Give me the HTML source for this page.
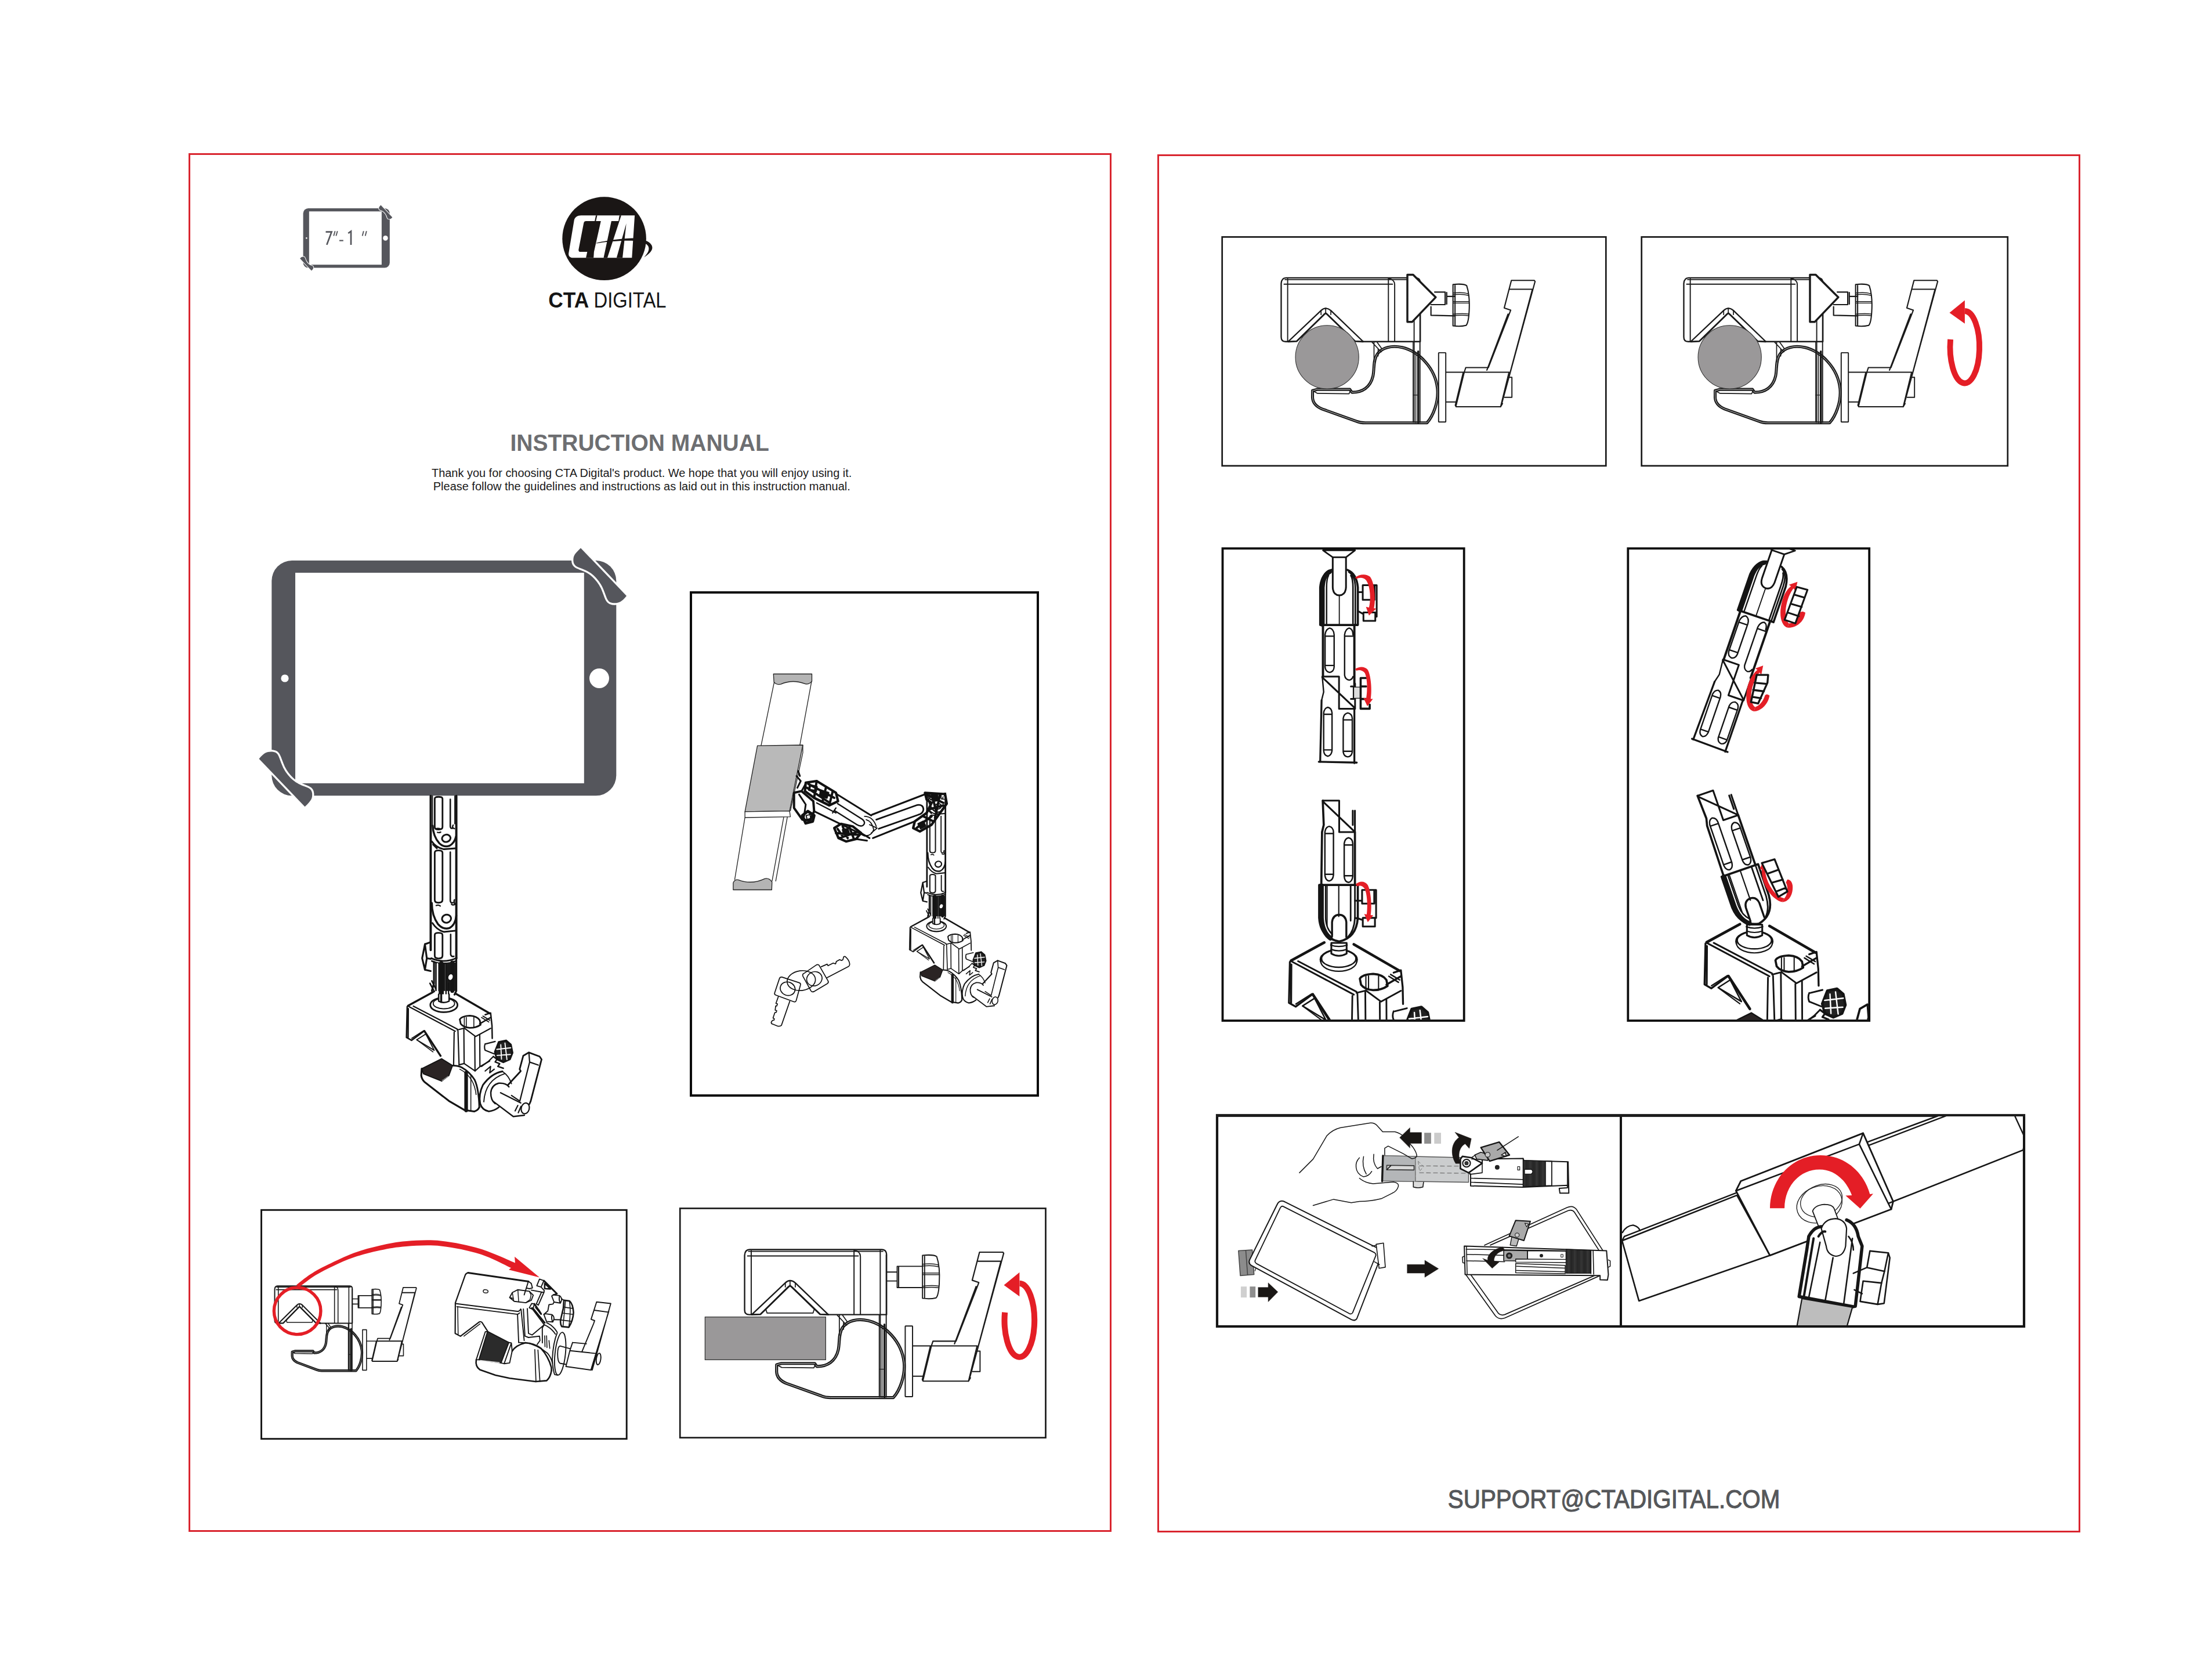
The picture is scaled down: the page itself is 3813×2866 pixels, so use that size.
<!DOCTYPE html>
<html><head><meta charset="utf-8"><title>CTA Digital Instruction Manual</title>
<style>
html,body{margin:0;padding:0;background:#fff;}
body{width:3813px;height:2866px;overflow:hidden;font-family:"Liberation Sans",sans-serif;}
svg{display:block;position:absolute;left:0;top:0;}
text{font-family:"Liberation Sans",sans-serif;}
.k{fill:none;stroke:#111;stroke-width:2.6;stroke-linejoin:round;stroke-linecap:round;}
.k2{fill:none;stroke:#111;stroke-width:2;stroke-linejoin:round;stroke-linecap:round;}
.k1{fill:none;stroke:#222;stroke-width:1.4;stroke-linejoin:round;stroke-linecap:round;}
.k3{fill:none;stroke:#111;stroke-width:3.4;stroke-linejoin:round;stroke-linecap:round;}
.k4{fill:none;stroke:#111;stroke-width:4.5;stroke-linejoin:round;stroke-linecap:round;}
.w{fill:#fff;}
.r{fill:#e41e26;}
.rs{fill:none;stroke:#e41e26;}
</style></head><body>
<svg width="3813" height="2866" viewBox="0 0 3813 2866">
<!-- 00_frame.svg -->
<g id="frame">
<rect x="326.5" y="265.5" width="1588" height="2373" fill="none" stroke="#d9252f" stroke-width="3"/>
<rect x="1996.5" y="267.5" width="1588" height="2372" fill="none" stroke="#d9252f" stroke-width="3"/>
<!-- boxes -->
<rect x="1191" y="1021" width="598" height="867" fill="none" stroke="#0c0c0c" stroke-width="4"/>
<rect x="450.5" y="2085.3" width="629.7" height="394.4" fill="none" stroke="#151515" stroke-width="2.9"/>
<rect x="1172.2" y="2082.5" width="630.3" height="395.2" fill="none" stroke="#1a1a1a" stroke-width="2.7"/>
<rect x="2106.7" y="408.4" width="661.6" height="394.4" fill="none" stroke="#1a1a1a" stroke-width="2.7"/>
<rect x="2829.7" y="408.4" width="631.1" height="394.4" fill="none" stroke="#1a1a1a" stroke-width="2.7"/>
<rect x="2107.5" y="945.2" width="416.2" height="813.8" fill="none" stroke="#0e0e0e" stroke-width="3.8"/>
<rect x="2806.3" y="945.2" width="415.9" height="813.8" fill="none" stroke="#0e0e0e" stroke-width="3.8"/>
<rect x="2098" y="1922" width="1391" height="364" fill="none" stroke="#151515" stroke-width="4.2"/>
<line x1="2794" y1="1922" x2="2794" y2="2286" stroke="#151515" stroke-width="4"/>
<rect x="2096" y="1920" width="1395" height="4.9" fill="#1c1c1c"/>
</g>
<g id="texts">
<text x="879.4" y="777.3" font-size="40" font-weight="bold" fill="#6d6e71" textLength="446.4" lengthAdjust="spacingAndGlyphs">INSTRUCTION MANUAL</text>
<text x="744" y="821.8" font-size="20" fill="#1a1a1a" textLength="724.3" lengthAdjust="spacingAndGlyphs">Thank you for choosing CTA Digital's product. We hope that you will enjoy using it.</text>
<text x="746.8" y="845.4" font-size="20" fill="#1a1a1a" textLength="719" lengthAdjust="spacingAndGlyphs">Please follow the guidelines and instructions as laid out in this instruction manual.</text>
<text x="2495.8" y="2598.8" font-size="44" fill="#55575a" stroke="#55575a" stroke-width="1.1" textLength="572.6" lengthAdjust="spacingAndGlyphs">SUPPORT@CTADIGITAL.COM</text>
</g>

<!-- 10_tablet.svg -->
<g id="tablet">
<defs>
<path id="clipshape" d="M1001,944.4 L1080,1026.9 C1076,1032 1072,1035.5 1069.4,1037 C1064,1039.8 1057,1040 1051.8,1037.9 C1048.5,1036.5 1046.7,1033 1045,1028.5 C1043,1023 1041,1017.5 1038.5,1012 C1035.5,1006 1030,998 1023.1,991.6 C1019,987.8 1015,985.5 1012.2,984 C1008,981.8 1004,980.2 1000.4,978.9 C996.5,977.5 994,976.5 992,974.7 C989.8,972.7 988.6,970 988.4,967.1 C988.2,964 988.4,962 989,959.6 C990,956.5 991.5,954.5 993.7,952 C996,949.3 998.5,946.8 1001,944.4 Z"/>
</defs>
<rect x="468.3" y="966.1" width="594" height="405.2" rx="35" ry="35" fill="#55565c"/>
<rect x="509" y="987.1" width="497.8" height="362.8" fill="#fff"/>
<circle cx="1033" cy="1169" r="17" fill="#fff"/>
<circle cx="491" cy="1169" r="6.6" fill="#fff"/>
<use href="#clipshape" fill="#fff" stroke="#fff" stroke-width="6.5" stroke-linejoin="round"/>
<use href="#clipshape" fill="#55565c"/>
<g transform="rotate(180 763.25 1167.35)">
<use href="#clipshape" fill="#fff" stroke="#fff" stroke-width="6.5" stroke-linejoin="round"/>
<use href="#clipshape" fill="#55565c"/>
</g>
</g>

<!-- 11_logo.svg -->
<g id="logo">
<ellipse cx="1041.6" cy="411.2" rx="72.3" ry="71.9" fill="#1a1615"/>
<path fill="#fff" d="M 1001.8,371.2 L 1094.1,371.2 L 1089.3,444.3 L 988.1,444.3 C 982.3,444.3 979.4,441 980.3,435.9 L 989.7,379.5 C 990.6,374.5 995.3,371.2 1001.8,371.2 Z"/>
<path fill="#1a1615" d="M 1010.5,381 L 1035.8,381 L 1023.9,434.1 L 1000.4,434.1 C 997.8,434.1 996.9,432.3 997.5,429.4 L 1006.2,384.6 C 1006.7,382.1 1008,381 1010.5,381 Z"/>
<path fill="#1a1615" d="M 1023.9,434.1 L 1012.3,434.1 L 1010.1,444.3 L 1023.2,444.3 Z"/>
<path fill="#1a1615" d="M 1027.1,371.2 L 1029.5,371.2 L 1027.1,381.7 L 1025,381.7 Z"/>
<path fill="#1a1615" d="M 1053.9,381 L 1066.2,381 L 1067.8,371.2 L 1070.9,371.2 L 1047,444.3 L 1040.5,444.3 Z"/>
<path fill="#1a1615" d="M 1079.6,385 L 1073.1,444.3 L 1062.9,444.3 Z"/>
<path fill="#1a1615" d="M 1027.9,418.7 C 1042.3,415.3 1071.3,410.6 1093,410.6 L 1093,415 C 1071.3,413.9 1042.3,417.1 1027.9,419.5 Z"/>
<path fill="#1a1615" d="M 1110.3,413.5 C 1119,416.4 1124.8,421.5 1124.4,427.3 C 1124.1,433.1 1117.6,438.8 1110,443.5 C 1115.4,438.1 1119,432.3 1118.3,427.3 C 1117.6,422.9 1114.7,420.8 1111,419.3 Z"/>
</g>
<text x="945.2" y="530.2" font-size="36.2" font-weight="bold" fill="#151515" textLength="70" lengthAdjust="spacingAndGlyphs">CTA</text>
<text x="1023.5" y="530.2" font-size="36.2" fill="#151515" textLength="125" lengthAdjust="spacingAndGlyphs">DIGITAL</text>
<!-- 12_icon.svg -->
<g id="icon">
<g transform="translate(522.6,359) scale(0.2512,0.2532) translate(-468.3,-966.1)">
<rect x="468.3" y="966.1" width="594" height="405.2" rx="35" ry="35" fill="#55565c"/>
<rect x="509" y="987.1" width="497.8" height="362.8" fill="#fff"/>
<circle cx="1033" cy="1169" r="17" fill="#fff"/>
<circle cx="491" cy="1169" r="5" fill="#fff"/>
<use href="#clipshape" fill="#fff" stroke="#fff" stroke-width="8" stroke-linejoin="round"/>
<use href="#clipshape" fill="#55565c"/>
<g transform="rotate(180 763.25 1167.35)">
<use href="#clipshape" fill="#fff" stroke="#fff" stroke-width="8" stroke-linejoin="round"/>
<use href="#clipshape" fill="#55565c"/>
</g>
</g>
<g fill="none" stroke="#55565c" stroke-linecap="butt" stroke-linejoin="miter">
<path d="M561.5,399.6 L571.6,399.6 L563.3,421.9" stroke-width="2.7"/>
<path d="M577.6,398.3 L575.2,406.6 M581.7,398.3 L579.3,406.6" stroke-width="1.9"/>
<path d="M585,414.6 L591.8,414.6" stroke-width="2.2"/>
<path d="M600.2,402 L605,398.6 L605,421.9" stroke-width="2.7"/>
<path d="M626.8,398.3 L624.6,406.6 M631.8,398.3 L629.6,406.6" stroke-width="1.9"/>
</g>
</g>

<!-- 20_clamp.svg -->
<defs>
<g id="clampL" fill="none" stroke="#1a1a1a" stroke-width="12.0" stroke-linejoin="round" stroke-linecap="round">
<path d="M767,1172 L812,1160 L1130,1160 L1150,1188 C1250,1190 1330,1140 1355,1030 C1370,960 1355,880 1395,820 C1440,750 1540,730 1640,752 C1800,790 1960,950 1982,1150 C1995,1280 1940,1420 1880,1485 L1280,1485 C1240,1485 1215,1478 1195,1470 L860,1350 C800,1325 770,1290 767,1240 Z" stroke-width="28.8"/>
<path d="M767,1172 L812,1160 L1130,1160 L1150,1188 C1250,1190 1330,1140 1355,1030 C1370,960 1355,880 1395,820 C1440,750 1540,730 1640,752 C1800,790 1960,950 1982,1150 C1995,1280 1940,1420 1880,1485 L1280,1485 C1240,1485 1215,1478 1195,1470 L860,1350 C800,1325 770,1290 767,1240 Z" stroke="#fff" stroke-width="4.2"/>
<path d="M775,1176 L815,1198 L1122,1202 L1138,1168" stroke-width="9.6"/>
<path d="M1345,700 L1435,795 M1395,700 L1442,765 M1365,700 V890 M1405,765 V835" stroke-width="9.6"/>
<path d="M510,75 H1770 Q1815,75 1815,125 V695 H1262 M530,695 H505 Q462,695 462,650 V130 Q465,75 510,75" stroke-width="13.2"/>
<path d="M500,92 H1780" stroke-width="10.8"/>
<path d="M525,85 V693 M490,136 H1545" stroke-width="10.8"/>
<path d="M1505,80 V690 M1510,84 Q1562,88 1566,138 V690" stroke-width="10.8"/>
<path d="M1755,80 V1480 M1812,125 V1480" stroke-width="10.8"/>
<path d="M1745,700 V1480 M1772,800 V1485" stroke-width="8.4"/>
<path d="M1795,790 V1485" stroke-width="19.2"/>
<path d="M1745,1215 H1795" stroke-width="7.2"/>
<path d="M530,695 L850,392 Q895,350 945,392 L1260,695" stroke-width="13.2"/>
<path d="M530,695 L612,692 L878,432 L895,418 L912,432 L1182,692 L1260,695" stroke-width="15.6"/>
<path d="M662,645 L880,428 M1128,645 L912,430 M665,645 L676,680 H1114 L1125,645 M850,392 V432 M945,392 V432 M895,368 V418" stroke-width="9.6"/>
</g>
<g id="clampR" fill="none" stroke="#1a1a1a" stroke-width="12.0" stroke-linejoin="round" stroke-linecap="round" transform="translate(1659,0) scale(0.9975)">
<rect x="335" y="805" width="70" height="675" rx="4" stroke-width="10.8"/>
<path d="M410,995 H585 M410,1285 H510" stroke-width="10.8"/>
<path d="M600,950 H815 M585,995 H1020 M600,950 L585,995 L505,1322 M575,1000 L498,1318 L506,1332 H940 L1022,995 M940,1332 L958,1300" stroke-width="12.0"/>
<path d="M1022,1045 H1050 V1240 H978" stroke-width="10.8"/>
<path d="M1045,100 H1268 L1276,110 L948,1312 M1030,186 H1250 M1250,186 L968,1240 M1045,100 L975,368 L1038,390 L1030,412 L820,950 M1012,428 L806,975" stroke-width="12.0"/>
</g>
<g id="knobB" fill="none" stroke="#1a1a1a" stroke-width="10.8" stroke-linejoin="round" stroke-linecap="round" transform="translate(1659,0) scale(0.9975)">
<path d="M155,290 H255 M155,375 H255"/>
<path d="M258,235 H500 M258,438 H500 M258,235 V438 M272,240 V434"/>
<g id="knobhead"><path d="M500,130 V540 M520,135 V537 M500,130 C560,124 620,128 636,142 C656,200 666,300 660,400 C656,470 646,520 630,536 C590,546 540,546 500,540"/>
<path d="M500,215 C560,208 620,212 648,222 M500,232 C560,226 620,230 650,238 M500,315 H662 M500,300 H660 M500,425 C560,418 620,418 655,424 M500,440 C560,434 620,434 652,440" stroke-width="8.4"/></g>
</g>
<g id="redarrow" transform="translate(1659,0) scale(0.9975)">
<path d="M1287,675 A143,352 0 1 0 1428,398" fill="none" stroke="#e41e26" stroke-width="56"/>
<polygon points="1278,415 1427,293 1427,522" fill="#e41e26"/>
</g>
<g id="wedge" fill="none" stroke="#1a1a1a" stroke-width="12.0" stroke-linejoin="round" stroke-linecap="round" transform="translate(465,75) scale(1.0204) translate(-105,-160)">
<path d="M1305,130 H1360 L1575,345 L1350,580 H1305 Z" stroke-width="19.2" fill="#fff"/>
<path d="M1565,295 H1665 V415 H1530 M1680,300 V410 M1530,435 V517 L1760,522 M1680,337 H1760"/>
<g transform="translate(1260,98) scale(0.96)"><use href="#knobhead"/></g>
</g>
<g id="clampLX" fill="none" stroke="#1a1a1a" stroke-width="18.0" stroke-linejoin="round" stroke-linecap="round">
<path d="M767,1172 L812,1160 L1130,1160 L1150,1188 C1250,1190 1330,1140 1355,1030 C1370,960 1355,880 1395,820 C1440,750 1540,730 1640,752 C1800,790 1960,950 1982,1150 C1995,1280 1940,1420 1880,1485 L1280,1485 C1240,1485 1215,1478 1195,1470 L860,1350 C800,1325 770,1290 767,1240 Z" stroke-width="43.2"/>
<path d="M767,1172 L812,1160 L1130,1160 L1150,1188 C1250,1190 1330,1140 1355,1030 C1370,960 1355,880 1395,820 C1440,750 1540,730 1640,752 C1800,790 1960,950 1982,1150 C1995,1280 1940,1420 1880,1485 L1280,1485 C1240,1485 1215,1478 1195,1470 L860,1350 C800,1325 770,1290 767,1240 Z" stroke="#fff" stroke-width="4.2"/>
<path d="M775,1176 L815,1198 L1122,1202 L1138,1168" stroke-width="14.4"/>
<path d="M1345,700 L1435,795 M1395,700 L1442,765 M1365,700 V890 M1405,765 V835" stroke-width="14.4"/>
<path d="M510,75 H1770 Q1815,75 1815,125 V695 H1262 M530,695 H505 Q462,695 462,650 V130 Q465,75 510,75" stroke-width="19.8"/>
<path d="M500,92 H1780" stroke-width="16.2"/>
<path d="M525,85 V693 M490,136 H1545" stroke-width="16.2"/>
<path d="M1505,80 V690 M1510,84 Q1562,88 1566,138 V690" stroke-width="16.2"/>
<path d="M1755,80 V1480 M1812,125 V1480" stroke-width="16.2"/>
<path d="M1745,700 V1480 M1772,800 V1485" stroke-width="12.6"/>
<path d="M1795,790 V1485" stroke-width="28.8"/>
<path d="M1745,1215 H1795" stroke-width="10.8"/>
<path d="M530,695 L850,392 Q895,350 945,392 L1260,695" stroke-width="19.8"/>
<path d="M530,695 L612,692 L878,432 L895,418 L912,432 L1182,692 L1260,695" stroke-width="23.4"/>
<path d="M662,645 L880,428 M1128,645 L912,430 M665,645 L676,680 H1114 L1125,645 M850,392 V432 M945,392 V432 M895,368 V418" stroke-width="14.4"/>
</g>
<g id="clampRX" fill="none" stroke="#1a1a1a" stroke-width="18.0" stroke-linejoin="round" stroke-linecap="round" transform="translate(1659,0) scale(0.9975)">
<rect x="335" y="805" width="70" height="675" rx="4" stroke-width="16.2"/>
<path d="M410,995 H585 M410,1285 H510" stroke-width="16.2"/>
<path d="M600,950 H815 M585,995 H1020 M600,950 L585,995 L505,1322 M575,1000 L498,1318 L506,1332 H940 L1022,995 M940,1332 L958,1300" stroke-width="18.0"/>
<path d="M1022,1045 H1050 V1240 H978" stroke-width="16.2"/>
<path d="M1045,100 H1268 L1276,110 L948,1312 M1030,186 H1250 M1250,186 L968,1240 M1045,100 L975,368 L1038,390 L1030,412 L820,950 M1012,428 L806,975" stroke-width="18.0"/>
</g>
<g id="knobBX" fill="none" stroke="#1a1a1a" stroke-width="16.2" stroke-linejoin="round" stroke-linecap="round" transform="translate(1659,0) scale(0.9975)">
<path d="M155,290 H255 M155,375 H255"/>
<path d="M258,235 H500 M258,438 H500 M258,235 V438 M272,240 V434"/>
<g id="knobheadX"><path d="M500,130 V540 M520,135 V537 M500,130 C560,124 620,128 636,142 C656,200 666,300 660,400 C656,470 646,520 630,536 C590,546 540,546 500,540"/>
<path d="M500,215 C560,208 620,212 648,222 M500,232 C560,226 620,230 650,238 M500,315 H662 M500,300 H660 M500,425 C560,418 620,418 655,424 M500,440 C560,434 620,434 652,440" stroke-width="12.6"/></g>
</g>
<g id="redarrowX" transform="translate(1659,0) scale(0.9975)">
<path d="M1287,675 A143,352 0 1 0 1428,398" fill="none" stroke="#e41e26" stroke-width="56"/>
<polygon points="1278,415 1427,293 1427,522" fill="#e41e26"/>
</g>
<g id="wedgeX" fill="none" stroke="#1a1a1a" stroke-width="18.0" stroke-linejoin="round" stroke-linecap="round" transform="translate(465,75) scale(1.0204) translate(-105,-160)">
<path d="M1305,130 H1360 L1575,345 L1350,580 H1305 Z" stroke-width="28.8" fill="#fff"/>
<path d="M1565,295 H1665 V415 H1530 M1680,300 V410 M1530,435 V517 L1760,522 M1680,337 H1760"/>
<g transform="translate(1260,98) scale(0.96)"><use href="#knobheadX"/></g>
</g>
</defs>
<g transform="translate(1200,2140) scale(0.18083)">
<rect x="85" y="717" width="1150" height="408" fill="#9a9899" stroke="#333" stroke-width="7"/>
<use href="#clampL"/>
<use href="#clampR"/>
<use href="#knobB"/>
<use href="#redarrow"/>
</g>
<g transform="translate(2126.6,465.6) scale(0.17721)">
<use href="#clampL"/>
<g transform="translate(465,75) scale(1.0204) translate(-105,-160)"><circle cx="540" cy="915" r="302" fill="#9a9899" stroke="#333" stroke-width="6"/></g>
<use href="#clampR"/>
<use href="#wedge"/>
</g>
<g transform="translate(2820.6,465.6) scale(0.17721)">
<use href="#clampL"/>
<g transform="translate(465,75) scale(1.0204) translate(-105,-160)"><circle cx="540" cy="915" r="302" fill="#9a9899" stroke="#333" stroke-width="6"/></g>
<use href="#clampR"/>
<use href="#wedge"/>
<g transform="translate(113,0)"><use href="#redarrow"/></g>
</g>
<g transform="translate(427.8,2208.6) scale(0.0989,0.10344)">
<use href="#clampLX"/><use href="#clampRX"/><use href="#knobBX"/>
</g>
<!-- 21_boxA.svg -->
<g id="boxA">
<circle cx="512.6" cy="2259.3" r="40.3" fill="none" stroke="#e41e26" stroke-width="5.4"/>
<path fill="#e41e26" d="M511,2214.5 C515.0,2211.4 526.2,2201.9 535.2,2196.1 C544.2,2190.3 552.7,2185.7 565.2,2179.6 C577.7,2173.5 595.3,2164.8 610.3,2159.3 C625.3,2153.8 640.4,2149.9 655.4,2146.5 C670.4,2143.1 683.1,2140.3 700.5,2139.0 C717.9,2137.7 738.9,2136.3 760.0,2138.5 C781.1,2140.7 806.0,2145.7 827.3,2152.0 C848.6,2158.3 877.9,2172.4 888.0,2176.5 L887.1,2165.8 L930,2201.6 L877,2188.2 L881,2185 C872.0,2181.0 847.5,2167.4 827.3,2161.2 C807.1,2154.9 781.1,2149.7 760.0,2147.5 C738.9,2145.3 717.9,2146.8 700.5,2148.0 C683.1,2149.2 670.4,2151.7 655.4,2154.8 C640.4,2157.9 623.8,2162.3 610.3,2166.8 C596.8,2171.3 585.2,2176.8 574.2,2181.9 C563.2,2187.0 554.0,2191.5 544.2,2197.6 C534.4,2203.7 520.3,2215.0 515.5,2218.5 Z"/>
<g fill="none" stroke="#161616" stroke-width="1.9" stroke-linejoin="round" stroke-linecap="round">
<path d="M 840.5,2294.6 L 877.1,2313.6 L 863.6,2348.9 L 825.6,2343.4 Z" fill="#2b2b2b"/>
<path d="M 828,2344.6 L 860.6,2348.2" stroke-width="1.6" stroke="#ddd"/>
<path d="M 840.5,2294.6 L 836.5,2295.3 L 820.9,2343.4 L 825.6,2343.4 M 877.1,2313.6 L 881.5,2314.5 L 869,2350.2 L 863.6,2348.9 M 869,2350.2 L 878.5,2348.9 L 882.8,2328.5 M 881.5,2314.5 L 882.8,2328.5"/>
<path d="M 820.9,2343.4 Q 819.1,2355 827,2360.4 L 854.1,2369.9 L 878.5,2375.3 L 923.3,2381 L 942.2,2379.4 Q 948.8,2373.9 950.7,2361.7" stroke-width="2.6"/>
<path d="M 882.8,2328.5 Q 889.3,2318.3 905.6,2314.3 Q 920.5,2314.9 932.7,2323.8 Q 945,2337.3 950.4,2356.3 L 950.7,2361.7" stroke-width="2.6"/>
<path d="M 905.6,2313.6 Q 926,2317.7 943.6,2331.9 Q 950.4,2340 952.4,2349.5 M 894.1,2313.6 L 904.3,2314.3 L 905.6,2313.6"/>
<path d="M 921.9,2325.8 L 923.9,2381.4 M 927.3,2326.5 L 930.7,2380.7" stroke-width="1.7"/>
<path d="M 806.9,2193.6 Q 803.2,2194.1 801.9,2197.6 L 784.9,2245.4 L 784.6,2298 L 793.7,2302.9 L 826.3,2278.2 Q 828.6,2277 830.8,2279 L 840.5,2294.2" stroke-width="2.2"/>
<path d="M 806.9,2193.6 L 911,2208.5" stroke-width="3"/>
<path d="M 911,2208.5 L 915.8,2211.9 L 917.8,2219.6 L 912.4,2221 L 907.3,2219.6 L 910.5,2209.2 M 907.3,2219.6 L 903.6,2231.5"/>
<path d="M 784.9,2246.5 L 892.1,2260 Q 896.1,2260 897.5,2255.9 M 787.6,2251.9 L 890.7,2264.9 Q 894.1,2265.2 895.5,2262.7"/>
<path d="M 789,2252.6 L 789.7,2299.6 M 799.8,2302.7 L 827.6,2281.4" stroke-width="1.5"/>
<path d="M 892.1,2265.4 L 894.1,2313.6 M 898.2,2256.6 L 903.6,2310.2 M 902.2,2255.9 L 904.9,2302.7 L 911,2305"/>
<ellipse cx="837.132" cy="2225.43" rx="4.2" ry="2.8" transform="rotate(8 837.132 2225.43)" stroke-width="1.5"/>
<path d="M 878.5,2236.3 L 883.2,2227.5 L 892.7,2222.7 L 912.4,2225.4 L 919.2,2232.2 L 915.8,2241 L 906.3,2245.1 L 886.6,2242.7 Z M 878.5,2236.3 L 884.6,2237.6"/>
<path d="M 892.7,2222.7 L 894.1,2243.7 M 883.2,2227.5 L 885.6,2242.4 M 912.4,2225.4 L 915.4,2231.8 L 913.8,2239.7 L 906.3,2245.1" stroke-width="1.5"/>
<path d="M 925.3,2215.9 L 930,2204.4 L 937.5,2207.1 L 932.7,2218.2 Z M 932.7,2218.2 L 938.2,2224.1 L 937.5,2227.5"/>
<path d="M 937.5,2207.1 L 959.9,2229.5" stroke-width="3"/>
<path d="M 938.9,2211.9 L 949,2221.4 L 938.9,2220.7 Z" stroke-width="2.6"/>
<path d="M 915.8,2223.4 L 937.5,2227.5 L 928,2249.2 M 933.4,2226.8 L 924.6,2247.1 L 928,2249.2"/>
<path d="M 912.4,2253.9 L 916.5,2246.5 L 921.2,2247.1 L 918.5,2256.6 Z"/>
<path d="M 921.2,2247.1 L 932.7,2264.4" stroke-width="3"/>
<path d="M 923.3,2253.2 L 932.7,2264.8 L 929,2257.6 Z" stroke-width="2.2"/>
<path d="M 951.1,2233.6 L 953.8,2231.5 L 964.6,2232.9 Q 968.7,2236.3 968,2241 L 966,2245.8 L 955.1,2244 Z M 964.6,2232.9 Q 962.6,2239.7 966,2245.8"/>
<path d="M 955.1,2244 L 953.1,2247.4 L 946.3,2248.5 L 944.3,2259.3 L 937.5,2265.2"/>
<path d="M 937.5,2265.2 L 940.6,2264.1 L 951.7,2265.7 Q 955.8,2268.8 954.7,2274.3 L 952.8,2278.3 L 942,2277.4 Z M 951.7,2265.7 Q 949.7,2272.2 952.8,2278.3"/>
<path d="M 972.1,2240.8 L 981.6,2242.1 Q 987.7,2247.1 988.6,2262.1 Q 987.7,2276.3 980.5,2287.4 L 968.3,2286.1 Q 965.3,2281 966.4,2274.5 L 971,2254.6 Z" stroke-width="2.6"/>
<path d="M 971,2252.6 L 987,2254.9 M 969.4,2263 L 988.4,2265.2 M 966.9,2274.9 L 985.4,2277.1 M 981.6,2242.1 Q 984.6,2261.4 980.5,2287.4 M 974.8,2241.3 L 970.5,2285.8" stroke-width="1.6"/>
<path d="M 968,2238.3 L 972.1,2241 M 954.7,2274.3 L 966.4,2274.5 M 959.9,2229.5 L 953.8,2231.5"/>
<path d="M 909,2255.3 L 911,2298 L 917.2,2300.7 L 938.2,2283.1 L 916.2,2253.9"/>
<path d="M 918.1,2254.3 L 938.9,2279.7" stroke-width="3"/>
<path d="M 911,2305 L 930,2302.7 L 930.8,2310.2 M 938.2,2283.1 L 934.8,2288.5 L 934.9,2314.3 M 930.8,2310.2 L 926,2317"/>
<path d="M 938.2,2283.1 Q 950.4,2288.5 957.4,2299.3 M 942.2,2279.3 Q 953.4,2284.4 960.1,2295.3"/>
<path d="M 938.9,2302.1 L 939.5,2321 M 942.2,2302.1 L 942.9,2322.4 M 946.3,2310.2 L 947.7,2323.8" stroke-width="1.6"/>
<ellipse cx="965.7" cy="2332.98" rx="9" ry="37" transform="rotate(6 965.7 2332.98)"/>
<path d="M 960.6,2296.6 Q 953.4,2314.3 952,2342.7 Q 953.1,2361.7 956.1,2368.8 L 960.6,2369.9"/>
<path d="M 965.3,2319.7 Q 961.2,2321 961.2,2333.3 Q 961.2,2346.8 965.3,2349.5 M 965.3,2319.7 L 982.9,2324.4 M 965.3,2349.5 L 975.1,2351.2"/>
<path d="M 1028.4,2243.7 L 1052.8,2246.5 L 1020.9,2361.1 M 1028.4,2243.7 L 1018.9,2273.6 L 1025,2276 L 1023.3,2281 L 1003.3,2329.2 M 1049.4,2260 L 1018.9,2360.4 M 1024.3,2258 L 1048.7,2261.4"/>
<path d="M 987,2313.6 L 1010.7,2315.9 M 982.3,2327.8 L 1027.7,2332.6 M 987,2313.6 L 982.3,2327.8 L 975.5,2355 L 1018.9,2361.1 L 1027.7,2332.6"/>
<ellipse cx="1031.75" cy="2342.07" rx="3.8" ry="10" transform="rotate(8 1031.75 2342.07)"/>
</g>
</g>
<!-- 30_iso.svg -->
<defs>
<g id="isoclamp" fill="none" stroke="#141414" stroke-width="16" stroke-linejoin="round" stroke-linecap="round">
<path d="M300,1035 L520,925 L640,1000 L600,1110 L520,1172 L320,1092 Z" stroke-width="12" fill="#2a2424"/>
<path d="M525,1165 L592,1118" stroke-width="8" stroke="#999"/>
<path d="M300,1035 L295,1110 Q300,1150 330,1180 L420,1250 L600,1390 L770,1490 L880,1506 Q920,1495 935,1460" stroke-width="20"/>
<path d="M640,1000 Q700,1000 740,1020 Q830,1070 885,1160 Q930,1260 935,1460" stroke-width="18"/>
<path d="M720,1040 Q800,1080 850,1160 Q890,1230 900,1320" stroke-width="10"/>
<path d="M790,1080 V1495" stroke-width="40"/>
<path d="M842,1110 V1500" stroke-width="10"/>
<path d="M150,340 L425,190 M670,205 L1050,425" stroke-width="22"/>
<path d="M150,345 L670,622 M208,345 L692,598" stroke-width="14"/>
<path d="M140,350 L132,690 L188,722 L330,618 M152,372 L150,690" stroke-width="16"/>
<path d="M190,700 L322,616 M245,716 L345,652 L438,832 Z" stroke-width="12"/>
<path d="M330,620 L508,893" stroke-width="22"/>
<path d="M245,716 L425,850" stroke-width="10"/>
<path d="M658,632 L652,992 M700,618 L712,992 M765,600 L768,978 M885,685 L888,1060 M940,660 L942,1012" stroke-width="14"/>
<path d="M692,608 L770,588 L895,680 L1060,590 M712,992 L768,978 L888,1060 L942,1012 L1050,950" stroke-width="14"/>
<path d="M1000,440 L1060,420 L1075,560 L1078,700 M1060,470 L940,540" stroke-width="16"/>
<path d="M960,470 L1040,520 M975,455 L1050,500" stroke-width="12"/>
<path d="M720,490 Q740,455 830,450 Q910,455 940,500 L950,550 Q900,585 830,585 Q760,580 730,540 Z" stroke-width="18"/>
<path d="M770,470 V578 M792,468 V582 M875,470 V585" stroke-width="10"/>
<ellipse cx="545" cy="332" rx="150" ry="80" stroke-width="18" fill="#fff"/>
<ellipse cx="545" cy="316" rx="118" ry="58" stroke-width="12"/>
<path d="M487,215 V290 Q545,320 602,290 V215" stroke-width="16" fill="#fff"/>
<path d="M515,215 V300" stroke-width="22"/>
<path d="M1010,760 L1110,735 M1000,832 L1100,872 M1000,760 Q985,795 1000,832" stroke-width="14"/>
<path d="M1150,742 L1230,725 L1282,770 L1300,860 L1272,930 L1200,962 L1130,930 L1108,850 Z" stroke-width="22" fill="#222"/>
<path d="M1172,770 L1180,930 M1218,752 L1240,935 M1128,822 L1282,804 M1132,888 L1278,878" stroke-width="12" stroke="#fff"/>
<path d="M1090,900 L1130,930 L1110,960 L1160,980 L1140,1010 L1200,1030" stroke-width="16"/>
<path d="M960,1010 L1040,950 L1090,900 M1000,1060 L1060,1010 L1050,1080 L1100,1040" stroke-width="14"/>
<path d="M1190,1065 Q1070,1085 975,1215 Q925,1320 945,1420 Q965,1490 1040,1505 Q1100,1500 1150,1460" stroke-width="18"/>
<path d="M1190,1065 Q1260,1110 1290,1200 M1215,1090 Q1000,1160 985,1400" stroke-width="12"/>
<path d="M1062,1300 Q1070,1215 1150,1195 Q1230,1190 1262,1235 M1062,1300 Q1060,1380 1110,1420" stroke-width="16"/>
<path d="M1170,1300 L1392,1412 M1095,1400 L1310,1562 L1432,1548" stroke-width="16"/>
<ellipse cx="1442" cy="1472" rx="44" ry="60" stroke-width="14" transform="rotate(15 1442 1472)"/>
<path d="M1330,1500 L1360,1440 M1365,1520 L1395,1450" stroke-width="14"/>
<path d="M1250,1215 L1392,1062 L1380,1040 L1420,892 L1482,856 L1600,900 L1622,932 L1502,1392 L1488,1425" stroke-width="18"/>
<path d="M1490,962 L1585,995 M1490,962 L1382,1392 M1482,856 L1490,962 M1290,1330 L1382,1392" stroke-width="14"/>
</g>
</defs>
<!-- 31_arm.svg -->
<defs><g id="mainarm" transform="translate(700,1370) scale(0.21648)" fill="none" stroke="#141414" stroke-width="13" stroke-linejoin="round" stroke-linecap="round">
<path d="M196,8 V1235 M400,8 V1300" stroke-width="18"/>
<path d="M210,8 V240 M388,8 V230" stroke-width="8.4"/>
<path d="M228,30 Q228,15 258,15 Q290,15 290,30 V255 Q290,275 258,275 Q228,275 228,255 Z" stroke-width="13.2"/>
<path d="M352,35 V250 Q352,268 370,265" stroke-width="12"/>
<path d="M212,245 Q215,330 265,385 Q300,420 345,405 Q385,385 398,330" stroke-width="15.6"/>
<path d="M235,270 Q255,262 275,272 M250,298 Q262,302 275,296 M375,240 Q362,262 385,268" stroke-width="10.8"/>
<ellipse cx="320" cy="345" rx="34" ry="29" stroke-width="14" transform="rotate(-15 320 345)"/>
<path d="M205,370 Q240,420 300,432 M300,432 L395,425 M215,395 L245,425" stroke-width="13.2"/>
<path d="M228,460 Q228,442 258,442 Q290,442 290,460 V835 Q290,858 258,858 Q228,858 228,835 Z" stroke-width="13.2"/>
<path d="M352,455 V840 Q352,862 372,858 M385,835 Q378,850 388,868" stroke-width="12"/>
<path d="M205,860 Q205,960 255,1030 Q295,1075 345,1060 Q392,1035 400,960" stroke-width="15.6"/>
<path d="M240,880 Q258,872 272,884 M362,870 Q372,880 388,872" stroke-width="10.8"/>
<ellipse cx="322" cy="985" rx="36" ry="32" stroke-width="14" transform="rotate(-15 322 985)"/>
<path d="M210,1020 Q245,1075 300,1090 L398,1080" stroke-width="13.2"/>
<path d="M228,1115 Q228,1098 258,1098 Q290,1098 290,1115 V1280 Q290,1302 258,1302 Q228,1302 228,1280 Z" stroke-width="13.2"/>
<path d="M355,1110 V1270 Q360,1290 380,1285" stroke-width="12"/>
<path d="M150,1188 L195,1172 M150,1188 L128,1300 L150,1392 L196,1402 M150,1188 L165,1300 L150,1392 M165,1300 L196,1305" stroke-width="14.4"/>
<path d="M200,1300 Q300,1345 402,1298 M205,1322 Q300,1365 400,1320" stroke-width="13.2"/>
<path d="M222,1330 V1500 L205,1560" stroke-width="14.4"/>
<path d="M232,1335 H400 V1560 H232 Z" stroke-width="1.2" fill="#1a1a1a"/>
<path d="M250,1345 V1560" stroke-width="12" stroke="#fff"/>
<path d="M318,1350 V1600" stroke-width="10.8" stroke="#fff"/>
<path d="M280,1345 V1610" stroke-width="40.8"/>
<path d="M368,1335 V1560" stroke-width="31.2"/>
<path d="M400,1300 V1560 L385,1590" stroke-width="14.4"/>
<path d="M318,1345 V1600 M338,1500 V1600" stroke-width="10.8"/>
<ellipse cx="354" cy="1450" rx="22" ry="28" stroke-width="10" fill="#fff" transform="rotate(20 354 1450)"/>
<path d="M205,1480 L235,1540 M190,1500 L225,1565" stroke-width="12"/>
</g>
<g id="armclamp"><use href="#mainarm"/><g transform="translate(680,1680) scale(0.15634)"><use href="#isoclamp"/></g></g>
<clipPath id="clipBig"><rect x="600" y="1412" width="500" height="600"/></clipPath>
</defs>
<use href="#armclamp"/>
<!-- 32_big.svg -->
<g id="bigbox">
<g transform="translate(1617.5,1489.3) scale(0.72) translate(-769.7,-1583.2)" clip-path="url(#clipBig)"><use href="#armclamp"/></g>
<g fill="none" stroke="#222" stroke-width="1.3" stroke-linejoin="round">
<path fill="#b4b4b4" d="M 1333.3,1161.5 L 1399.5,1161.5 L 1399.5,1174.1 Q 1394,1180.4 1387.6,1178.4 Q 1366.2,1170.3 1346,1179.1 Q 1338.4,1180.9 1334.1,1175.4 Z"/>
<path d="M 1334.6,1175.4 L 1311.9,1285.2 M 1399,1174.1 L 1378.8,1284"/>
<path fill="#b9b9b9" d="M 1305.6,1285.2 L 1383.9,1284 L 1361.1,1397.6 L 1284.1,1398.9 Z"/>
<path fill="#fff" d="M 1284.1,1398.9 L 1361.1,1397.6 L 1362.4,1407.7 L 1284.1,1409 Z"/>
<path d="M 1383.9,1284 L 1383.9,1297.1 L 1362.4,1397.6 M 1284.1,1409 L 1266.4,1516.3 M 1351,1408.2 L 1330.8,1518.8 M 1357.3,1407.7 L 1337.1,1518.8"/>
<path fill="#b4b4b4" d="M 1263.9,1521.4 Q 1266.4,1515 1272.7,1516.3 Q 1295.5,1525.1 1318.2,1514.3 Q 1325.8,1512.5 1330.8,1520.1 L 1330.3,1533.5 L 1263.9,1533.5 Z"/>
</g>
<g fill="none" stroke="#111" stroke-width="2.4" stroke-linejoin="round" stroke-linecap="round">
<path d="M 1441,1367.7 L 1501.8,1405.4" stroke-width="3"/>
<path d="M 1443.9,1385.1 L 1487.3,1412.6 Q 1493.1,1418.4 1487.3,1422.7 Q 1483,1424.9 1477.2,1421.3 L 1438.1,1396.7" stroke-width="2.4"/>
<path d="M 1403.4,1398.1 L 1490.2,1440.1" stroke-width="3"/>
<path d="M 1407.7,1383.7 L 1441,1401 M 1441,1392.3 L 1435.2,1401" stroke-width="2.2"/>
<path d="M 1388.9,1348.9 L 1407.7,1346 L 1441,1366.3 L 1444.6,1380.8 L 1429.4,1388 L 1403.4,1375 L 1387.5,1363.4 Z" stroke-width="4.2"/>
<path d="M 1393.3,1351.1 L 1438.1,1375 M 1391.1,1357.6 L 1428,1382.2 M 1407.7,1346 L 1403.4,1375 M 1423.7,1357.6 L 1417.9,1380.8 M 1435.2,1364.8 L 1429.4,1388 M 1396.2,1353.3 L 1407.7,1356.2 L 1406.3,1363.4 L 1394.7,1361.2 Z" stroke-width="4"/>
<path d="M 1415,1362 L 1428,1366.3 L 1425.1,1375 L 1413.5,1370.6 Z" stroke-width="3.4" fill="#111"/>
<path d="M 1368.7,1366.3 L 1381.7,1363.4 L 1402,1380.8 L 1403.4,1398.1 L 1396.2,1414 L 1383.1,1412.6 L 1368.7,1392.3 Z" stroke-width="4"/>
<path d="M 1377.4,1369.2 L 1388.9,1386.5 L 1386,1406.8 M 1381.7,1363.4 L 1388.9,1350.4 M 1373,1337.4 L 1380.3,1346 L 1374.5,1357.6 M 1375.9,1328.7 L 1378.8,1337.4" stroke-width="3"/>
<path d="M 1383.1,1405.4 L 1392.5,1398.1 L 1403.4,1405.4 L 1400.8,1415.5 L 1388.9,1418.7 Z" stroke-width="5"/>
<path d="M 1389.7,1405.4 L 1396.2,1403.9 L 1397.9,1410.4 L 1391.1,1412.3 Z" stroke-width="2"/>
<path d="M 1438.1,1427.1 L 1449.7,1419.8 L 1469.9,1424.2 L 1484.4,1435.7 L 1475.7,1445.9 L 1458.4,1450.2 L 1445.4,1444.4 Z" stroke-width="4.2"/>
<path d="M 1443.9,1428.5 L 1452.6,1441.5 M 1452.6,1424.2 L 1461.3,1444.4 M 1464.2,1425.6 L 1471.4,1444.4 M 1441,1435.7 L 1478.6,1438.6 M 1446.8,1444.4 L 1475.7,1434.3" stroke-width="4"/>
<path d="M 1452.6,1429.9 L 1461.3,1428.5 L 1463.4,1435.7 L 1454.8,1437.9 Z" stroke-width="3" fill="#111"/>
<path d="M 1484.4,1435.7 L 1498.9,1444.4 M 1475.7,1445.9 L 1494.5,1448.8" stroke-width="3"/>
<path d="M 1490.2,1406.8 Q 1504.7,1406.8 1510.5,1424.2 M 1493.1,1412.6 Q 1503.2,1415.5 1506.1,1429.9 Q 1501.8,1441.5 1490.2,1440.1 M 1498.9,1421.3 L 1511.9,1427.1 L 1501.8,1435.7" stroke-width="1.8"/>
<path d="M 1503.2,1403.9 L 1597.3,1367.7" stroke-width="3.2"/>
<path d="M 1510.5,1412.6 L 1581.3,1387.3 Q 1591.5,1385.8 1591.8,1395.2 Q 1590.7,1402.5 1582.8,1404.2 L 1514.8,1428.2" stroke-width="2.8"/>
<path d="M 1504.7,1444.4 L 1577,1415.5" stroke-width="3"/>
<path d="M 1594.4,1366.3 L 1629.1,1368.5 L 1632,1385.1 L 1605.9,1421.3 L 1585.7,1432.8 L 1574.1,1427.1 L 1577,1415.5 L 1597.3,1401 L 1605.9,1383.7 L 1597.3,1377.9 Z" stroke-width="4.2"/>
<path d="M 1597.3,1369.2 L 1626.2,1383.7 M 1605.9,1367.7 L 1614.6,1401 M 1620.4,1369.2 L 1611.7,1409.7 M 1585.7,1421.3 L 1605.9,1406.8 M 1579.9,1427.1 L 1597.3,1412.6 M 1600.1,1395.2 L 1626.2,1388 M 1591.5,1406.8 L 1608.8,1415.5" stroke-width="4"/>
<path d="M 1605.9,1370.6 L 1616.1,1370.6 L 1616.8,1379.3 L 1608.1,1380.8 Z M 1582.8,1419.8 L 1591.5,1415.5 L 1595.1,1423.4 L 1587.1,1427.8 Z" stroke-width="3" fill="#111"/>
</g>
<g fill="none" stroke="#111" stroke-width="1.7" stroke-linejoin="round" stroke-linecap="round">
<path d="M 1347.9,1683.9 Q 1344.7,1683.2 1343.6,1686.4 L 1335.3,1711.2 Q 1334.5,1713.9 1337.5,1715 L 1368.6,1726.5 Q 1371.5,1727.2 1372.4,1724.5 L 1379.9,1697.2 Q 1380.5,1694.5 1377.6,1693.6 Z"/>
<ellipse cx="1357.8" cy="1703.95" rx="13" ry="11.5" transform="rotate(20 1357.8 1703.95)"/>
<path d="M 1341.6,1717.9 L 1337.5,1729.2 L 1340.2,1730.1 L 1339,1733.7 L 1337.1,1733.7 L 1336.2,1740.9 L 1338.9,1741.8 L 1338.1,1744.6 L 1335.7,1745 L 1332.5,1754.5 L 1334.8,1755.8 L 1334.2,1758.1 L 1331.6,1758.5 L 1329.4,1761.7 Q 1329.4,1764.4 1331.6,1764.8 L 1340.7,1768.5 Q 1345.2,1768.9 1347,1767.1 L 1361.4,1725.6"/>
<path d="M 1385.8,1677.6 Q 1382.6,1679.2 1384,1682.3 L 1397.9,1707.6 Q 1399.7,1710.3 1402.9,1708.9 L 1426.4,1694.9 Q 1428.9,1693.1 1427.3,1690.4 L 1412.4,1664.3 Q 1410.6,1661.6 1407.4,1662.9 Z"/>
<ellipse cx="1403.79" cy="1686.81" rx="13.5" ry="12" transform="rotate(-25 1403.79 1686.81)"/>
<path d="M 1415.5,1666.1 L 1425.9,1661.6 L 1427.3,1664.3 L 1436.3,1659.8 L 1440.3,1661.1 L 1441.7,1657.1 L 1447.1,1653.9 L 1450.7,1655.3 L 1453,1653.9 L 1454.3,1648.9 Q 1456.1,1647.6 1457.9,1649.4 Q 1464.2,1655.3 1464.7,1661.6 Q 1464.7,1664.3 1462.9,1665.4 L 1425.5,1685"/>
<ellipse cx="1381.24" cy="1689.97" rx="24.5" ry="17" transform="rotate(-8 1381.24 1689.97)"/>
</g>
</g>
<!-- 40_mid.svg -->
<defs>
<g id="armU" transform="translate(2230,940) scale(0.24053)" fill="none" stroke="#141414" stroke-width="12.5" stroke-linejoin="round" stroke-linecap="round">
<path d="M210,35 H440 L375,85 H280 Z" stroke-width="11.25"/>
<path d="M280,85 V300 Q282,355 327,358 Q372,355 375,300 V85" stroke-width="12.5"/>
<path d="M270,175 Q200,200 190,300 V570 H460 V300 Q450,200 385,175" stroke-width="15"/>
<path d="M258,188 Q212,212 206,300 V565" stroke-width="32.5"/>
<path d="M250,215 Q236,240 236,300 V565" stroke-width="10"/>
<path d="M395,190 Q440,215 442,300 V565 M410,215 Q425,240 425,300 V560" stroke-width="11.25"/>
<path d="M327,358 V570" stroke-width="7.5"/>
<path d="M210,570 V940 M435,570 V1000" stroke-width="16.25"/>
<path d="M225,640 Q230,600 258,592 Q288,600 290,640 V870 Q288,905 258,910 Q228,905 225,870 Z M225,650 H290 M225,860 H290" stroke-width="10"/>
<path d="M365,640 Q370,600 398,592 Q425,600 425,640 M365,640 V930 Q370,960 398,965 Q420,960 425,940 M365,650 H425" stroke-width="10"/>
<path d="M205,940 H325 V1170 H440 V990 M205,945 L438,1165" stroke-width="12.5"/>
<path d="M205,940 L215,1050 L200,1110" stroke-width="10"/>
<path d="M200,1110 L190,1552 M435,1170 V1560 M180,1550 L452,1556" stroke-width="13.75"/>
<path d="M215,1200 Q220,1165 245,1160 Q272,1165 275,1200 V1470 Q270,1505 245,1510 Q218,1505 215,1470 Z M215,1210 H275 M215,1465 H275" stroke-width="10"/>
<path d="M355,1240 Q360,1205 388,1200 Q418,1205 420,1240 V1480 Q415,1512 388,1515 Q360,1512 355,1480 Z M355,1250 H420 M355,1475 H420" stroke-width="10"/>
</g>
<g id="armL" transform="translate(2200,1360) scale(0.24654)" fill="none" stroke="#141414" stroke-width="12.5" stroke-linejoin="round" stroke-linecap="round">
<path d="M325,80 H440 V300 H550 V150 M330,90 L545,295 M535,150 V250" stroke-width="12.5"/>
<path d="M325,80 L332,250 L320,300 L315,670 M550,300 V670" stroke-width="15"/>
<path d="M340,300 Q345,265 370,260 Q398,265 400,300 V600 Q396,638 370,642 Q344,638 340,600 Z M340,310 H400 M340,595 H400" stroke-width="10"/>
<path d="M475,380 Q480,345 505,340 Q533,345 535,380 V610 Q530,648 505,652 Q478,648 475,610 Z M475,390 H535 M475,605 H535" stroke-width="10"/>
<path d="M300,670 H570 M300,670 V900 Q310,1040 440,1065 Q560,1040 570,900 V670" stroke-width="15"/>
<path d="M316,675 V900 Q322,1000 378,1042" stroke-width="32.5"/>
<path d="M345,675 V900 Q348,975 392,1015" stroke-width="10"/>
<path d="M550,675 V900 Q545,990 500,1035 M520,675 V920" stroke-width="11.25"/>
<path d="M355,675 V950 M437,675 V890" stroke-width="8.75"/>
<path d="M390,1030 V930 Q395,880 440,878 Q485,880 490,930 V1035" stroke-width="13.75"/>
</g>
<g id="studV" transform="translate(2200,1360) scale(0.24654)" fill="none" stroke="#141414" stroke-width="12.5" stroke-linejoin="round" stroke-linecap="round">
<ellipse cx="437" cy="1205" rx="125" ry="68" fill="#fff" stroke-width="9"/>
<ellipse cx="437" cy="1185" rx="120" ry="60" fill="#fff" stroke-width="10"/>
<path d="M385,1075 V1150 Q437,1180 492,1150 V1075 Z" stroke-width="12.5" fill="#fff"/>
<path d="M380,1090 Q437,1110 496,1090 M383,1120 Q437,1140 494,1120" stroke-width="8.75"/>
</g>
<clipPath id="clipR3"><rect x="2109.4" y="947.1" width="412.4" height="810"/></clipPath>
<clipPath id="clipR4"><rect x="2808.4" y="947.1" width="412.8" height="810"/></clipPath>
</defs>
<g id="R3" clip-path="url(#clipR3)">
<g transform="translate(2307.7,1653.4) scale(1.33) translate(-765.2,-1731.6)"><g transform="translate(680,1680) scale(0.15634)"><use href="#isoclamp"/></g></g>
<use href="#studV"/>
<use href="#armL"/>
<use href="#armU"/>
<g transform="translate(2230,940) scale(0.24053)" fill="none" stroke="#141414" stroke-width="12.5" stroke-linejoin="round" stroke-linecap="round">
<path d="M495,285 H595 V510 M495,285 V390 H580 V285 M500,480 H585 V540 H500 Z M460,335 H495 M460,470 Q480,480 500,492"/>
<path d="M410,1010 H430 V1100 H410"/>
<rect x="430" y="1015" width="50" height="80" fill="#ddd" stroke-width="6"/>
<path d="M480,950 V1170 H545 V1140 M480,950 H520 M480,1010 H520 M480,1100 H520" stroke-width="15"/>
<path fill="#e41e26" stroke="none" d="M440,230 C470,205 520,200 548,225 C580,270 590,380 575,450 L592,452 L540,502 L518,440 L540,445 C555,380 548,290 520,250 C500,228 470,228 452,240 Z"/>
<path fill="#e41e26" stroke="none" d="M440,885 C470,865 510,865 530,890 C555,930 562,1040 552,1100 L568,1100 L528,1152 L500,1092 L520,1095 C530,1040 528,950 510,915 C495,892 465,890 450,898 Z"/>
</g>
<g transform="translate(2200,1360) scale(0.24654)" fill="none" stroke="#141414" stroke-width="12.5" stroke-linejoin="round" stroke-linecap="round">
<path d="M550,780 H600 M550,900 Q580,905 605,915 M600,705 H685 V800 H600 Z M605,900 H690 V960 H605 Z M685,705 H698 V900"/>
<path fill="#e41e26" stroke="none" d="M555,665 C580,640 620,640 640,670 C665,720 668,830 660,880 L678,882 L640,930 L615,872 L632,876 C640,820 636,740 620,700 C605,672 580,672 565,680 Z"/>
</g>
</g>
<g id="R4" clip-path="url(#clipR4)">
<g transform="translate(716.4,-31.6)">
<g transform="translate(2307.7,1653.4) scale(1.33) translate(-765.2,-1731.6)"><g transform="translate(680,1680) scale(0.15634)"><use href="#isoclamp"/></g></g>
<use href="#studV"/>
</g>
<g transform="translate(3022.8,1565) rotate(-19) translate(-2308.5,-1594.2)"><use href="#armL"/></g>
<g transform="translate(3057.8,972.1) rotate(19) translate(-2308.7,-982.1)"><use href="#armU"/></g>
<g transform="translate(2900,940) scale(0.24654)" fill="none" stroke="#141414" stroke-width="12.5" stroke-linejoin="round" stroke-linecap="round">
<path fill="#e41e26" stroke="none" d="M735,575 C690,560 670,480 700,380 C715,330 740,300 760,285 L745,275 L805,255 L790,320 L778,300 C750,330 725,400 722,460 C722,500 730,530 745,545 Z"/>
<path fill="#e41e26" stroke="none" d="M735,575 C790,580 850,540 860,470 C840,458 830,462 822,470 C810,520 780,545 745,545 Z"/>
<path d="M800,290 L875,310 L790,545 L715,520 Z M785,345 L855,365 M765,410 L835,430 M740,470 L815,495" stroke-width="12.5" fill="#fff"/>
<path fill="#e41e26" stroke="none" d="M500,1160 C455,1150 435,1080 455,990 C470,930 500,890 525,870 L510,860 L565,840 L552,905 L540,888 C515,915 490,970 482,1030 C478,1080 490,1120 510,1130 Z"/>
<path fill="#e41e26" stroke="none" d="M500,1160 C550,1160 600,1110 610,1050 C595,1038 585,1040 578,1048 C565,1090 540,1120 510,1130 Z"/>
<path d="M520,905 H600 L595,960 L530,1105 L480,1095 Z M505,960 L590,968 M495,1010 L570,1020 M487,1058 L550,1068" stroke-width="13.75" fill="#fff"/>
</g>
<g transform="translate(2900,1340) scale(0.25857)" fill="none" stroke="#141414" stroke-width="12.5" stroke-linejoin="round" stroke-linecap="round">
<path fill="#e41e26" stroke="none" d="M665,830 C620,820 560,760 540,690 C530,650 528,630 530,610 L515,615 L535,565 L570,610 L552,612 C552,650 570,710 610,760 C630,785 655,800 680,805 Z"/>
<path fill="#e41e26" stroke="none" d="M665,830 C710,830 740,780 735,720 C730,690 715,680 700,680 L690,700 C705,720 705,780 680,805 Z"/>
<path d="M530,570 L615,545 L700,760 L640,795 Z M570,640 L640,615 M600,700 L670,680 M625,760 L690,735" stroke-width="12.5" fill="#fff"/>
</g>
</g>
<!-- 50_bot.svg -->
<defs><clipPath id="clipR5a"><rect x="2100" y="1924" width="692" height="360"/></clipPath><clipPath id="clipR5b"><rect x="2796" y="1924" width="691" height="360"/></clipPath>
<pattern id="ribs" width="2.2" height="4" patternUnits="userSpaceOnUse"><rect width="2.2" height="4" fill="#555"/><rect width="1.3" height="4" fill="#111"/></pattern>
</defs>
<g id="R5a" clip-path="url(#clipR5a)">
<path d="M 2384.6,1991.7 L 2531.5,1995.2 L 2531.5,2037.5 L 2382.2,2035.2 Z" fill="#cbcdce" stroke="#555" stroke-width="1.4" stroke-linejoin="round" stroke-linecap="round"/>
<path d="M 2384.6,1991.7 L 2439.8,1992.9 L 2439.8,2036.4 L 2382.2,2035.2 Z" fill="#b4b6b8" stroke="#666" stroke-width="1.2" stroke-linejoin="round" stroke-linecap="round"/>
<path d="M 2390.5,2008.2 L 2437.5,2008.9 L 2437.5,2016.4 L 2390.5,2015.9 Z" fill="#d8d8d8" stroke="#333" stroke-width="1.6" stroke-linejoin="round" stroke-linecap="round"/>
<path d="M 2390.5,2015.9 L 2397.5,2008.9" fill="none" stroke="#161616" stroke-width="1.6" stroke-linejoin="round" stroke-linecap="round"/>
<path d="M 2383.9,1991.7 L 2382.5,2035.7" fill="none" stroke="#161616" stroke-width="3.4" stroke-linejoin="round" stroke-linecap="round"/>
<path d="M 2446.9,2009.3 L 2531.5,2009.8 M 2446.9,2021.1 L 2531.5,2022" fill="none" stroke="#777" stroke-width="1.3" stroke-linejoin="round" stroke-linecap="round" stroke-dasharray="7 5"/>
<path d="M 2439.8,1992.9 L 2439.8,2036.4 M 2444.5,2001.1 L 2453.9,2010.5 L 2446.9,2018.7 Z" fill="none" stroke="#777" stroke-width="1" stroke-linejoin="round" stroke-linecap="round" stroke-dasharray="5 4"/>
<path d="M 2436.3,2036.4 L 2436.3,2045.8 Q 2444.5,2048.1 2452.7,2045.8 L 2453.9,2037.5" fill="#ddd" stroke="#161616" stroke-width="1.6" stroke-linejoin="round" stroke-linecap="round"/>
<path d="M 2531.5,2021.1 L 2555,2004.6 L 2555,1997.6 L 2625.5,1996.4 L 2626.7,1999.9 L 2703.1,2002.3 L 2704.3,2056.3 L 2689,2056.3 L 2687.8,2048.1 L 2701.9,2046.9 L 2701.9,2042.7 L 2625.5,2046 L 2535,2043.7 L 2535,2023.4 Z" fill="#fff" stroke="#161616" stroke-width="2" stroke-linejoin="round" stroke-linecap="round"/>
<path d="M 2535,2030.5 L 2625.5,2032.8 M 2536.2,2037.5 L 2625.5,2041.1 M 2555,1997.6 L 2555,2021.1 L 2533.9,2023.9 M 2625.5,1996.4 L 2625.5,2046" fill="none" stroke="#161616" stroke-width="1.6" stroke-linejoin="round" stroke-linecap="round"/>
<path d="M 2626.7,1999.9 L 2664.3,2001.1 L 2664.3,2043.7 L 2626.7,2044.8 Z" fill="url(#ribs)" stroke="#111" stroke-width="1" stroke-linejoin="round" stroke-linecap="round"/>
<path d="M 2664.3,2001.1 L 2674.9,2001.3 L 2674.9,2043.2 L 2664.3,2043.7 M 2701.9,2002.7 L 2701.9,2042.7" fill="none" stroke="#161616" stroke-width="1.8" stroke-linejoin="round" stroke-linecap="round"/>
<path d="M 2627.9,2015.2 L 2639.6,2015.2 Q 2644.8,2019.2 2639.6,2023.4 L 2627.9,2023.4 Z" fill="#fff" stroke="#161616" stroke-width="1.4" stroke-linejoin="round" stroke-linecap="round"/>
<circle cx="2580.87" cy="2011.68" r="4" fill="#222"/>
<path d="M 2616.1,2010.5 L 2619.7,2010.5 L 2619.7,2016.4 L 2616.1,2016.4 Z" fill="none" stroke="#161616" stroke-width="1.2" stroke-linejoin="round" stroke-linecap="round"/>
<path d="M 2517.4,1997.6 L 2520.9,1992.9 L 2536.7,1995.2 L 2555,2004.6 L 2531.5,2021.1 L 2517.4,2014 Z" fill="#fff" stroke="#161616" stroke-width="2.6" stroke-linejoin="round" stroke-linecap="round"/>
<circle cx="2527.97" cy="2004.63" r="6.6" fill="#fff" stroke="#111" stroke-width="2"/>
<circle cx="2527.97" cy="2004.63" r="3.6" fill="#333"/>
<path d="M 2542.1,1990.5 L 2552.7,1985.8 L 2567.9,1990.5 L 2564.4,1999.9 L 2545.6,1997.6 Z" fill="#b0b0b0" stroke="#161616" stroke-width="1.6" stroke-linejoin="round" stroke-linecap="round"/>
<path d="M 2552.7,1977.6 L 2584.4,1968.2 L 2602,1990.5 L 2567.9,2001.1 Z" fill="#a9a9a9" stroke="#161616" stroke-width="2.4" stroke-linejoin="round" stroke-linecap="round"/>
<path d="M 2587.9,1990.5 L 2595,1985.8 L 2596.1,1992.9 Z" fill="#eee" stroke="#161616" stroke-width="1.4" stroke-linejoin="round" stroke-linecap="round"/>
<circle cx="2564.41" cy="1990.05" r="4.2" fill="#c8c8c8" stroke="#333" stroke-width="1.3"/>
<path d="M 2580.9,1982.3 L 2617.3,1958.8" fill="none" stroke="#161616" stroke-width="1.5" stroke-linejoin="round" stroke-linecap="round"/>
<path d="M 2536.2,1995.2 L 2543.3,1990.5 M 2536.7,1997.6 L 2545.6,1997.6" fill="none" stroke="#161616" stroke-width="1.4" stroke-linejoin="round" stroke-linecap="round"/>
<path d="M 2412.8,1960.4 L 2430.4,1943.5 L 2430.4,1951.7 L 2450.4,1951.7 L 2450.4,1970.5 L 2430.4,1970.5 L 2430.4,1978.3 Z" fill="#1a1715" stroke="#1a1715" stroke-width="0.5" stroke-linejoin="round" stroke-linecap="round"/>
<path d="M 2455.1,1952.2 L 2466.9,1952.2 L 2466.9,1971 L 2455.1,1971 Z" fill="#8e8e8e" stroke="none" stroke-width="0" stroke-linejoin="round" stroke-linecap="round"/>
<path d="M 2472.3,1952.2 L 2484,1952.2 L 2484,1971 L 2472.3,1971 Z" fill="#cbcbcb" stroke="none" stroke-width="0" stroke-linejoin="round" stroke-linecap="round"/>
<path d="M 2509.2,2005.1 C 2498.6,1987 2502.8,1968.2 2515,1960.4 L 2508,1951.3 L 2536.2,1962.3 L 2532.7,1979.2 L 2525.6,1971.2 C 2515.5,1976.9 2512,1990.5 2517.9,2005.1 Z" fill="#1a1715" stroke="#1a1715" stroke-width="0.5" stroke-linejoin="round" stroke-linecap="round"/>
<path d="M 2240,2021.1 L 2263.5,1997.6 L 2287,1957.6 Q 2296.4,1947 2310.5,1943.5 L 2362.2,1935.3 Q 2369.3,1934.6 2374,1940 L 2383.4,1950.6 L 2404.6,1950.6 Q 2414,1952.9 2421,1960 L 2435.1,1976.4 Q 2442.6,1987 2442.2,1992.9 Q 2438.6,1997.6 2432.8,1996.4 L 2418.7,1988.2 L 2392.8,1975.2 L 2386.9,1978.8 L 2386.9,1990.5" fill="none" stroke="#161616" stroke-width="1.5" stroke-linejoin="round" stroke-linecap="round"/>
<path d="M 2343.4,1995.2 Q 2336.4,2002.3 2337.6,2011.7 Q 2338.7,2023.4 2350.5,2028.1 Q 2359.9,2027 2364.6,2018.7 M 2350.5,1993.3 Q 2347,2009.3 2355.2,2023.4 M 2368.1,1989.3 Q 2365.8,2004.6 2374.5,2014 L 2381,2010.5" fill="none" stroke="#161616" stroke-width="1.5" stroke-linejoin="round" stroke-linecap="round"/>
<path d="M 2343.4,2030.5 Q 2352.8,2038.7 2366.9,2039.9 L 2402.2,2037.1 Q 2411.6,2038.7 2410.4,2044.6 Q 2408.1,2052.8 2399.9,2056.3 L 2381,2065.8 Q 2362.2,2070.5 2343.4,2070.5 L 2329.3,2072.8 L 2298.8,2066.9 L 2263.5,2077.5" fill="none" stroke="#161616" stroke-width="1.5" stroke-linejoin="round" stroke-linecap="round"/>
<path d="M 2134.8,2155.4 L 2158.5,2153.9 L 2161.7,2196.6 L 2138,2198.5 Z" fill="#8c8c8c" stroke="#444" stroke-width="1.5" stroke-linejoin="round" stroke-linecap="round"/>
<path d="M 2147.5,2155.4 L 2150.6,2197.2 M 2158.5,2164.9 L 2168,2174.4 L 2163.3,2190.3" fill="none" stroke="#444" stroke-width="1.5" stroke-linejoin="round" stroke-linecap="round"/>
<path d="M 2206,2070.6 Q 2210.8,2068.4 2215.5,2071.6 L 2378.5,2152.9 Q 2384.2,2156.1 2381.6,2162.4 L 2338.9,2272.5 Q 2335.8,2277.3 2329.4,2274.1 L 2157,2180.8 Q 2151.3,2177 2154.4,2170.6 L 2201.3,2076.3 Q 2203.2,2071.9 2206,2070.6 Z" fill="#fff" stroke="#161616" stroke-width="2" stroke-linejoin="round" stroke-linecap="round"/>
<path d="M 2211.4,2078.9 L 2369,2158.6 Q 2372.8,2161.1 2371.2,2164.9 L 2331.6,2262.4 Q 2329.7,2265.6 2325.9,2263.7 L 2165.8,2177.6 Q 2162,2175.1 2163.9,2171.3 L 2207,2081.4 Q 2208.9,2078.2 2211.4,2078.9 Z" fill="#fff" stroke="#161616" stroke-width="1.8" stroke-linejoin="round" stroke-linecap="round"/>
<path d="M 2372.2,2144.4 L 2384.8,2142.2 L 2388,2183.9 L 2377.2,2185.8 Z M 2365.2,2147.8 L 2372.2,2145.9 M 2369,2174.4 L 2377.8,2179.2" fill="#fff" stroke="#161616" stroke-width="1.6" stroke-linejoin="round" stroke-linecap="round"/>
<path d="M 2138.9,2217.2 L 2149.1,2217.2 L 2149.1,2236.1 L 2138.9,2236.1 Z" fill="#d0d0d0" stroke="none" stroke-width="0" stroke-linejoin="round" stroke-linecap="round"/>
<path d="M 2154.4,2217.2 L 2164.2,2217.2 L 2164.2,2236.1 L 2154.4,2236.1 Z" fill="#8e8e8e" stroke="none" stroke-width="0" stroke-linejoin="round" stroke-linecap="round"/>
<path d="M 2169,2218.7 L 2186.1,2218.7 L 2186.1,2210.8 L 2202.8,2226.6 L 2186.1,2243.4 L 2186.1,2235.2 L 2169,2235.2 Z" fill="#1a1715" stroke="#1a1715" stroke-width="0.5" stroke-linejoin="round" stroke-linecap="round"/>
<path d="M 2425.9,2179.2 L 2456,2179.2 L 2456,2171.9 L 2479.7,2186.5 L 2456,2201.3 L 2456,2194.1 L 2425.9,2194.1 Z" fill="#1a1715" stroke="#1a1715" stroke-width="0.5" stroke-linejoin="round" stroke-linecap="round"/>
<path d="M 2558.9,2145.9 L 2701.3,2081.1 Q 2711.4,2076.3 2717.7,2084.6 L 2763.6,2156.1 M 2569,2145.9 L 2702.8,2086.5 Q 2710.1,2083.9 2713.9,2089 L 2756.6,2155.4" fill="none" stroke="#161616" stroke-width="1.7" stroke-linejoin="round" stroke-linecap="round"/>
<path d="M 2525.6,2195 L 2577.8,2267.8 Q 2584.2,2275.1 2594.3,2271.3 L 2762,2196.6 M 2534.2,2195.3 L 2583.2,2263.7 Q 2587.3,2267.8 2593.7,2265.6 L 2752.5,2196.6" fill="none" stroke="#161616" stroke-width="1.7" stroke-linejoin="round" stroke-linecap="round"/>
<path d="M 2524.1,2147.5 L 2769.3,2155.4 L 2772.5,2196.6 L 2770.9,2206.1 L 2758.2,2205.4 L 2758.2,2198.2 L 2525.6,2196.6 Z" fill="#fff" stroke="#161616" stroke-width="2" stroke-linejoin="round" stroke-linecap="round"/>
<path d="M 2527.8,2147.8 L 2529.1,2196.6 M 2527.8,2161.8 L 2593.7,2163.4 M 2527.8,2172.8 L 2593.7,2174.4 M 2527.2,2152.9 L 2698.1,2155.4" fill="none" stroke="#161616" stroke-width="1.5" stroke-linejoin="round" stroke-linecap="round"/>
<path d="M 2592.1,2154.8 L 2633.2,2155.4 L 2633.2,2173.2 L 2592.1,2172.8 Z" fill="#aaa" stroke="#161616" stroke-width="1.6" stroke-linejoin="round" stroke-linecap="round"/>
<circle cx="2601.59" cy="2163.99" r="5.6" fill="#222"/>
<circle cx="2601.59" cy="2163.99" r="2.6" fill="#777"/>
<path d="M 2633.2,2155.4 L 2699.7,2156.1 L 2699.7,2174.4 L 2633.2,2174.4 Z" fill="#fff" stroke="#161616" stroke-width="1.6" stroke-linejoin="round" stroke-linecap="round"/>
<circle cx="2656.97" cy="2163.99" r="3" fill="#222"/>
<path d="M 2691.1,2161.8 L 2694.3,2161.8 L 2694.3,2166.5 L 2691.1,2166.5 Z" fill="none" stroke="#161616" stroke-width="1" stroke-linejoin="round" stroke-linecap="round"/>
<path d="M 2612.7,2169.7 L 2713.9,2170.6 L 2713.9,2176 L 2612.7,2175.1 Z" fill="#fff" stroke="#161616" stroke-width="1.4" stroke-linejoin="round" stroke-linecap="round"/>
<path d="M 2612.7,2177.6 L 2698.1,2180.8 L 2698.1,2195 L 2612.7,2193.4 Z M 2614.2,2182.3 L 2698.1,2185.5 M 2614.2,2189.6 L 2698.1,2191.8" fill="#fff" stroke="#161616" stroke-width="1.5" stroke-linejoin="round" stroke-linecap="round"/>
<path d="M 2699.7,2152.9 L 2742.4,2154.8 L 2742.4,2194.4 L 2699.7,2194.4 Z" fill="url(#ribs)" stroke="#111" stroke-width="1" stroke-linejoin="round" stroke-linecap="round"/>
<path d="M 2742.4,2154.8 L 2742.4,2195 M 2746.2,2155.4 L 2747.2,2195.9" fill="none" stroke="#161616" stroke-width="1.6" stroke-linejoin="round" stroke-linecap="round"/>
<path d="M 2772.5,2171.3 L 2775.6,2172.8 L 2775.6,2182.3 L 2772.5,2183.9 M 2524.1,2164.9 L 2520.9,2166.5 L 2521.5,2176 L 2524.7,2177" fill="none" stroke="#161616" stroke-width="1.5" stroke-linejoin="round" stroke-linecap="round"/>
<path d="M 2606.3,2130.1 L 2619,2131.7 L 2614.2,2147.5 L 2603.2,2145.9 Z" fill="#bbb" stroke="#161616" stroke-width="1.4" stroke-linejoin="round" stroke-linecap="round"/>
<path d="M 2612.7,2103.2 L 2638,2104.8 L 2626.9,2138 L 2601.6,2130.1 Z" fill="#a9a9a9" stroke="#161616" stroke-width="2" stroke-linejoin="round" stroke-linecap="round"/>
<path d="M 2628.5,2108 L 2634.8,2109.6 L 2631.6,2114.3 Z" fill="#eee" stroke="#161616" stroke-width="1.2" stroke-linejoin="round" stroke-linecap="round"/>
<circle cx="2615.2" cy="2128.55" r="3.6" fill="#ccc" stroke="#333" stroke-width="1.2"/>
<path d="M 2590.5,2149.1 C 2574.7,2152.3 2562.7,2162.4 2564.6,2171.9 L 2555.7,2168.7 L 2572.2,2185.8 L 2584.8,2174.4 L 2575.3,2173.2 C 2574.7,2164.9 2581.6,2157.3 2593.7,2154.8 Z" fill="#1a1715" stroke="#1a1715" stroke-width="0.5" stroke-linejoin="round" stroke-linecap="round"/>
</g>
<g id="R5b" clip-path="url(#clipR5b)">
<path d="M 2796.1,2138.2 L 2994.1,2059.9 L 3051,2163.6 L 2825.2,2241.9 Z" fill="#fff" stroke="#161616" stroke-width="2.6" stroke-linejoin="round" stroke-linecap="round"/>
<path d="M 2800.1,2130.8 L 2995.8,2054.6 M 2796.1,2138.2 L 2800.1,2130.8" fill="none" stroke="#161616" stroke-width="2.4" stroke-linejoin="round" stroke-linecap="round"/>
<path d="M 3206.5,1972.9 L 3348.7,1920.1 L 3499.3,1920.1 L 3487.5,1982 L 3261.7,2071.3 Z" fill="#fff" stroke="#161616" stroke-width="2.6" stroke-linejoin="round" stroke-linecap="round"/>
<path d="M 3214.9,1976.3 L 3355.4,1922.7 M 3473.2,1923.4 L 3487.9,1955.2" fill="none" stroke="#161616" stroke-width="2.4" stroke-linejoin="round" stroke-linecap="round"/>
<path d="M 2992.4,2052.2 L 3000.8,2035.5 L 3211.6,1952.9 L 3263.4,2070.6 L 3260.1,2084 L 3051,2163.6 Z" fill="#fff" stroke="#161616" stroke-width="2.8" stroke-linejoin="round" stroke-linecap="round"/>
<path d="M 2992.4,2052.2 L 3204.9,1971.9 L 3211.6,1952.9 M 3204.9,1971.9 L 3255,2074 L 3260.1,2084 M 3255,2074 L 3263.4,2070.6" fill="none" stroke="#161616" stroke-width="2.6" stroke-linejoin="round" stroke-linecap="round"/>
<path d="M 2796.7,2124.1 Q 2803.4,2112.4 2815.1,2111.4 Q 2825.2,2114.1 2826.8,2120.8" fill="none" stroke="#161616" stroke-width="2.4" stroke-linejoin="round" stroke-linecap="round"/>
<ellipse cx="3136.29" cy="2075.63" rx="40" ry="31" fill="#fff" stroke="#222" stroke-width="1.4" transform="rotate(-20 3136.29 2075.63)"/>
<ellipse cx="3139.63" cy="2068.94" rx="37" ry="27" fill="none" stroke="#222" stroke-width="1.3" transform="rotate(-20 3139.63 2068.94)"/>
<path d="M 3124.6,2087.3 Q 3127.9,2077.3 3144.6,2075.6 Q 3158,2075.6 3161.4,2082.3 L 3169.7,2104.7 L 3135.3,2114.8 Z" fill="#fff" stroke="#161616" stroke-width="1.8" stroke-linejoin="round" stroke-linecap="round"/>
<path d="M 3117.9,2130.8 Q 3127.9,2112.4 3143,2114.1 L 3183.1,2102.4 Q 3199.8,2109.1 3203.2,2130.8 L 3209.9,2147.6 L 3198.2,2251.3 L 3101.2,2234.5 L 3114.5,2154.2 Z" fill="#fff" stroke="#fff" stroke-width="0.1" stroke-linejoin="round" stroke-linecap="round"/>
<path d="M 3117.9,2130.8 Q 3127.9,2112.4 3143,2114.1 M 3183.1,2102.4 Q 3199.8,2109.1 3203.2,2130.8 L 3209.9,2147.6 L 3198.2,2251.3 M 3117.9,2130.8 L 3114.5,2154.2 L 3101.2,2234.5 L 3194.8,2251.9" fill="none" stroke="#161616" stroke-width="5.5" stroke-linejoin="round" stroke-linecap="round"/>
<path d="M 3139.6,2117.5 Q 3144.6,2100.7 3164.7,2100.1 Q 3181.4,2102.4 3183.1,2117.5 L 3181.4,2147.6 Q 3178.1,2164.3 3164.7,2165 Q 3149.7,2162.6 3148,2147.6 Z" fill="#fff" stroke="#161616" stroke-width="2.2" stroke-linejoin="round" stroke-linecap="round"/>
<path d="M 3126.2,2134.2 L 3109.5,2234.5 M 3134.6,2130.8 Q 3141.3,2120.8 3146.3,2122.5" fill="none" stroke="#161616" stroke-width="4" stroke-linejoin="round" stroke-linecap="round"/>
<path d="M 3137.3,2140.9 L 3117.9,2236.2 M 3159.7,2167.6 L 3146.3,2241.2 M 3193.2,2134.2 L 3178.1,2247.9 M 3186.5,2130.8 Q 3194.8,2140.9 3194.8,2154.2" fill="none" stroke="#161616" stroke-width="2.6" stroke-linejoin="round" stroke-linecap="round"/>
<path d="M 3106.2,2237.9 L 3193.2,2252.9 L 3183.1,2288.1 L 3097.1,2288.1 Z" fill="#bdbdbd" stroke="#161616" stroke-width="2.2" stroke-linejoin="round" stroke-linecap="round"/>
<path fill="#e41e26" d="M 3051,2082.3 C 3051,2033.8 3087.8,1991 3138,1991 C 3178.1,1991 3211.6,2017.1 3223.3,2057.9 L 3229,2057.2 L 3206.5,2082.7 L 3181.4,2060.6 L 3192.2,2059.9 C 3181.4,2032.1 3161.4,2015.4 3136.3,2015.4 C 3102.8,2015.4 3076.1,2043.9 3076.1,2082.3 Z"/>
<path d="M 3223.3,2155.9 L 3255,2159.3 L 3248.4,2191 L 3218.2,2184.4 Z M 3211.6,2207.8 L 3243.3,2211.1 L 3236.6,2247.9 L 3206.5,2242.9 Z" fill="#fff" stroke="#161616" stroke-width="2.6" stroke-linejoin="round" stroke-linecap="round"/>
<path d="M 3194.8,2194.4 L 3218.2,2184.4 M 3196.5,2222.8 L 3209.9,2229.5 M 3255,2159.3 L 3257.7,2167.6 L 3247.7,2246.2 L 3236.6,2247.9 M 3248.4,2191 L 3243.3,2211.1" fill="none" stroke="#161616" stroke-width="2.6" stroke-linejoin="round" stroke-linecap="round"/>
</g>
</svg>
</body></html>
